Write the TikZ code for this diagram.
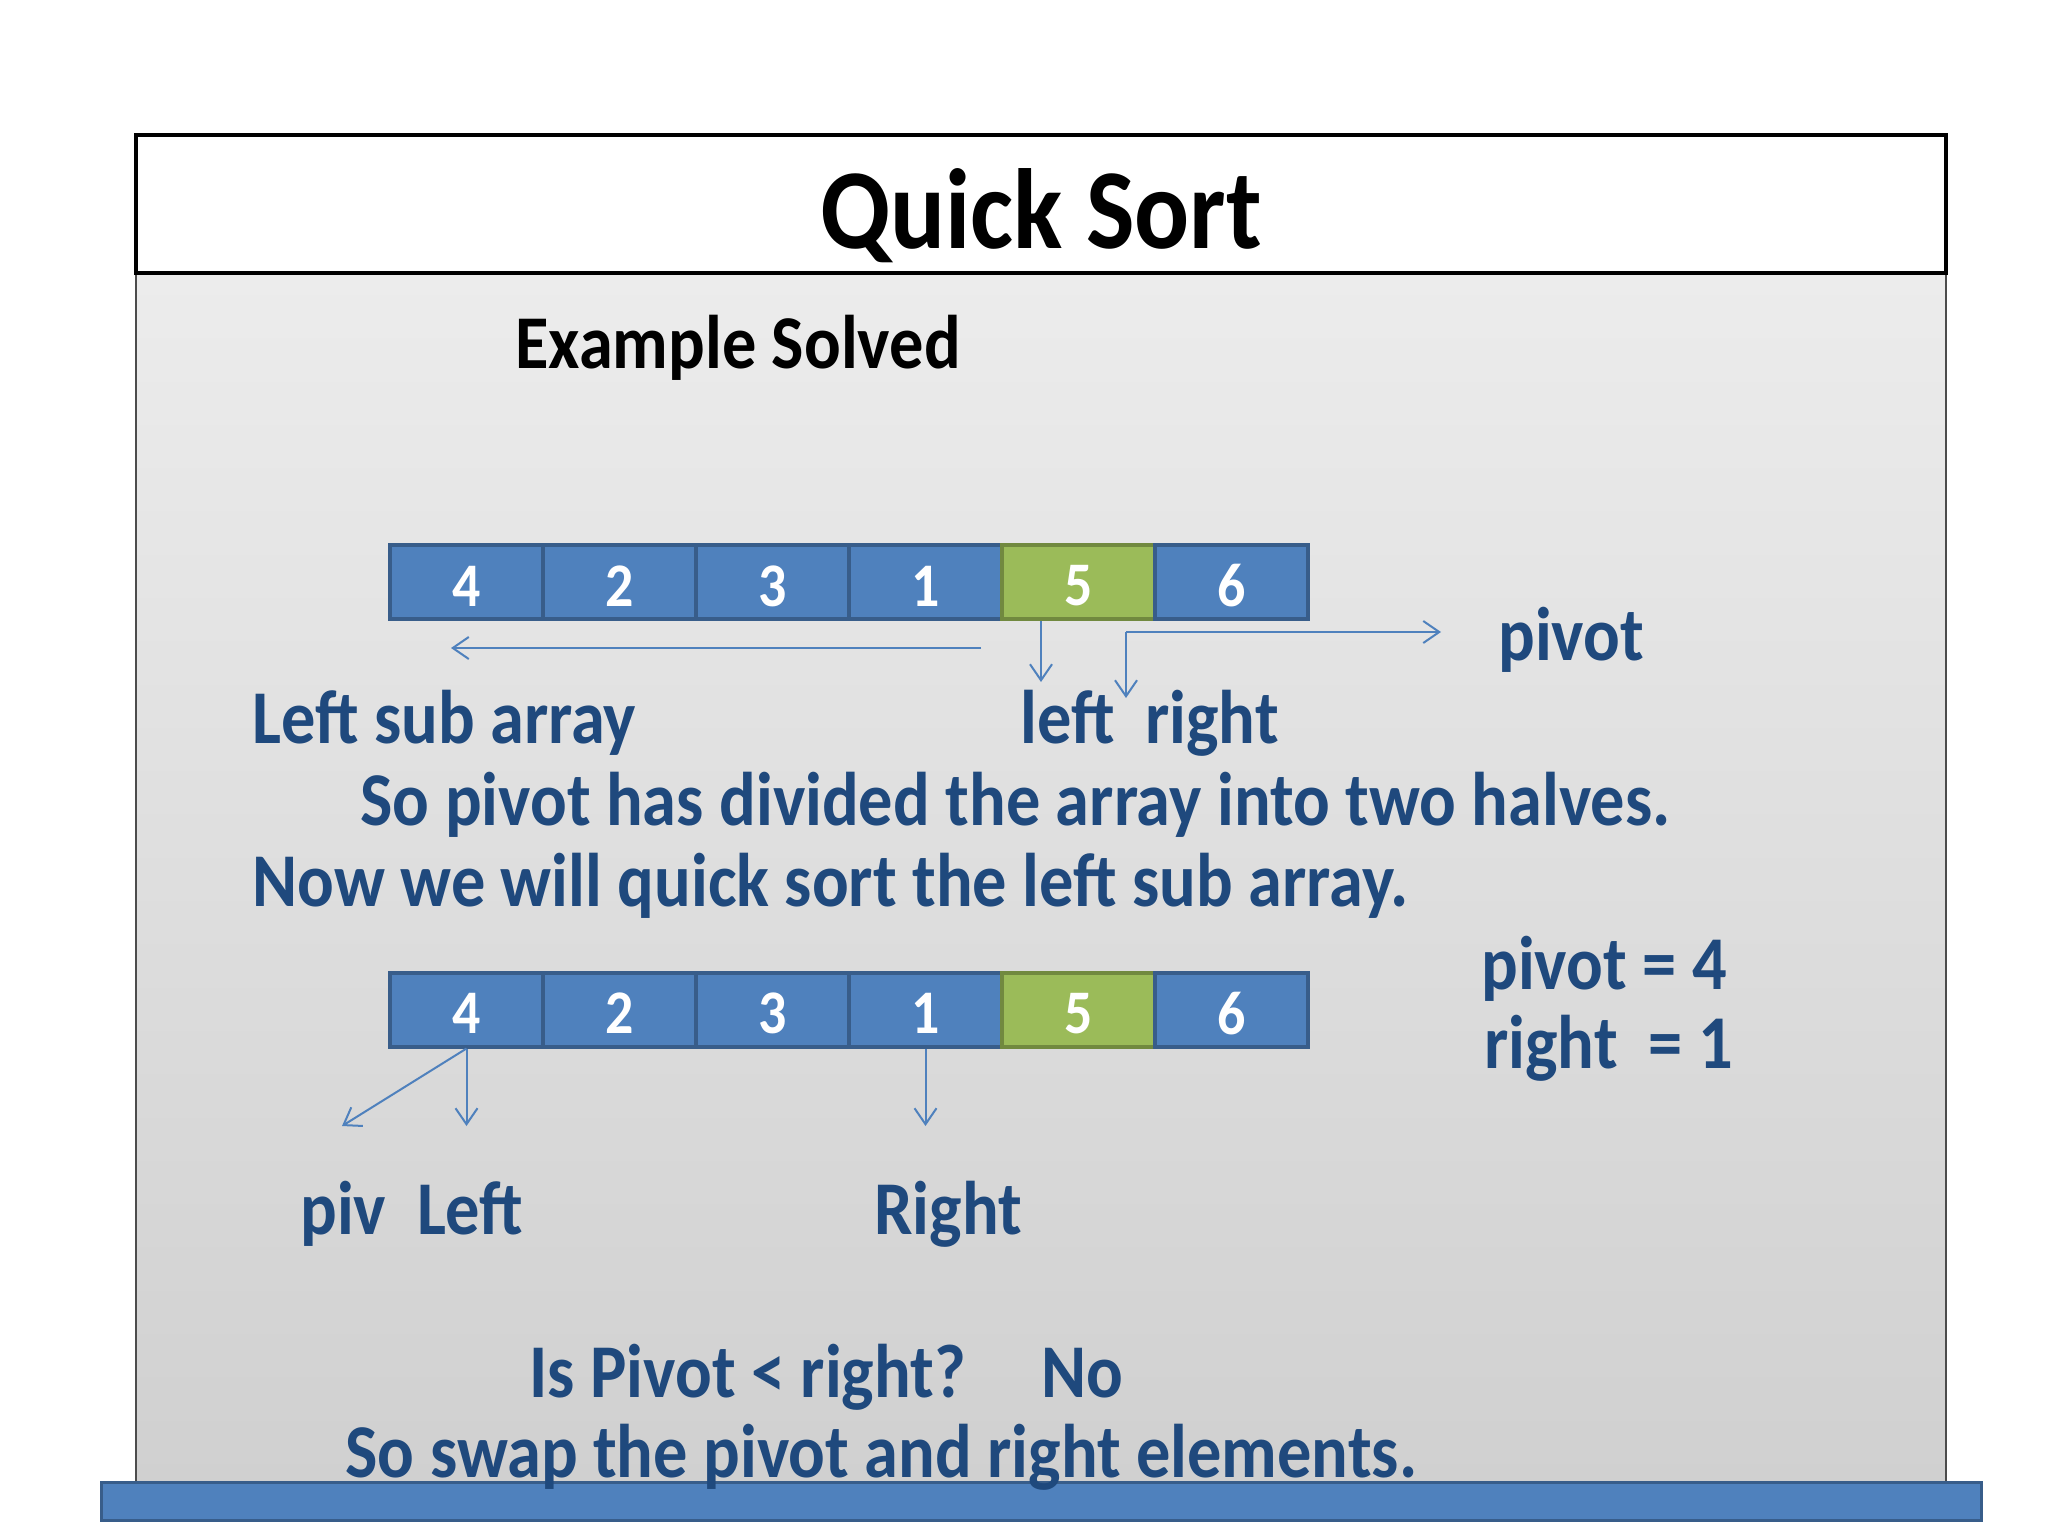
\documentclass[tikz,border=0pt]{standalone}
\usepackage{fontspec}
\setmainfont{Carlito}
\usetikzlibrary{arrows.meta}
\definecolor{cellblue}{HTML}{4F81BD}
\definecolor{cellline}{HTML}{385D8A}
\definecolor{cellgreen}{HTML}{9BBB59}
\definecolor{greenline}{HTML}{71893F}
\definecolor{txtblue}{HTML}{1F497D}
\definecolor{graytop}{HTML}{ECECEC}
\definecolor{graybot}{HTML}{D0D0D0}
\newcommand\sqz[1]{\scalebox{0.9}[1]{#1}}
\newcommand\dig[1]{\raisebox{-2pt}[\height][\depth]{\scalebox{0.9}[1]{#1}}}
\tikzset{
  cell/.style={rectangle, draw=cellline, fill=cellblue, line width=2pt, minimum width=76.5pt, minimum height=37pt, inner sep=0pt, text=white, font=\fontsize{31}{36}\selectfont\bfseries},
  gcell/.style={cell, draw=greenline, fill=cellgreen},
  lbl/.style={anchor=base west, inner sep=0pt, text=txtblue, font=\fontsize{38}{45}\selectfont\bfseries},
  arr/.style={draw=cellblue, line width=1pt, -{Straight Barb[length=8pt,width=11pt]}},
}
\begin{document}
\begin{tikzpicture}[x=0.5pt,y=-0.5pt]
\useasboundingbox (0,0) rectangle (2048,1536);
\fill[white] (0,0) rectangle (2048,1536);
% body
\shade[top color=graytop, bottom color=graybot] (136,273) rectangle (1946,1485);
\draw[black!70, line width=1pt] (136,273) -- (136,1485) -- (1946,1485) -- (1946,273);
% title box
\node[draw=black, fill=white, line width=2pt, minimum width=905pt, minimum height=69pt, inner sep=0pt] (titlebox) at (1041,204) {};
\node[anchor=base, inner sep=0pt, font=\fontsize{57}{68}\selectfont\bfseries] (title) at (1041,248) {\sqz{Quick Sort}};
% bottom bar
\node[draw=cellline, fill=cellblue, line width=1.5pt, minimum width=940pt, minimum height=19pt, inner sep=0pt] (bar) at (1041,1501) {};
% subtitle
\node[anchor=base west, inner sep=0pt, font=\fontsize{38}{45}\selectfont\bfseries] (ex) at (515,368) {\sqz{Example Solved}};
% row 1
\node[cell] (a1) at (466.5,582) {\dig{4}};
\node[cell] (a2) at (619.5,582) {\dig{2}};
\node[cell] (a3) at (772.5,582) {\dig{3}};
\node[cell] (a4) at (925.5,582) {\dig{1}};
\node[gcell] (a5) at (1078.5,582) {\dig{5}};
\node[cell] (a6) at (1231.5,582) {\dig{6}};
% row 2
\node[cell] (b1) at (466.5,1009.5) {\dig{4}};
\node[cell] (b2) at (619.5,1009.5) {\dig{2}};
\node[cell] (b3) at (772.5,1009.5) {\dig{3}};
\node[cell] (b4) at (925.5,1009.5) {\dig{1}};
\node[gcell] (b5) at (1078.5,1009.5) {\dig{5}};
\node[cell] (b6) at (1231.5,1009.5) {\dig{6}};
% labels
\node[lbl] (lsa) at (252,743) {\sqz{Left sub array}};
\node[lbl] (lr) at (1020,743) {\sqz{left\hspace{0.45em}right}};
\node[lbl] (pv) at (1498,660) {\sqz{pivot}};
\node[lbl] (l1) at (360,825) {\sqz{So pivot has divided the array into two halves.}};
\node[lbl] (l2) at (252,906) {\sqz{Now we will quick sort the left sub array.}};
\node[lbl] (pv4) at (1481,989) {\sqz{pivot = 4}};
\node[lbl] (r1) at (1484,1068) {\sqz{right\hspace{0.45em}= 1}};
\node[lbl] (pl) at (300,1234) {\sqz{piv\hspace{0.45em}Left}};
\node[lbl] (rt) at (874,1234) {\sqz{Right}};
\node[lbl] (q) at (529,1397) {\sqz{Is Pivot < right?}};
\node[lbl] (no) at (1041,1397) {\sqz{No}};
\node[lbl] (sw) at (345,1477) {\sqz{So swap the pivot and right elements.}};
% arrows row 1
\coordinate (la0) at (981,648);
\coordinate (la1) at (451,648);
\draw[arr] (la0) -- (la1);
\coordinate (g0) at (1041,621);
\coordinate (g1) at (1041,682);
\draw[arr] (g0) -- (g1);
\coordinate (e0) at (1126,632);
\coordinate (e1) at (1441,632);
\coordinate (e2) at (1126,698);
\draw[arr] (e0) -- (e1);
\draw[arr] (e0) -- (e2);
% arrows row 2
\coordinate (d1) at (342,1126);
\coordinate (d2) at (466.5,1126);
\coordinate (d3) at (925.5,1126);
\draw[arr] (b1.south) -- (d1);
\draw[arr] (b1.south) -- (d2);
\draw[arr] (b4.south) -- (d3);
\end{tikzpicture}
\end{document}
